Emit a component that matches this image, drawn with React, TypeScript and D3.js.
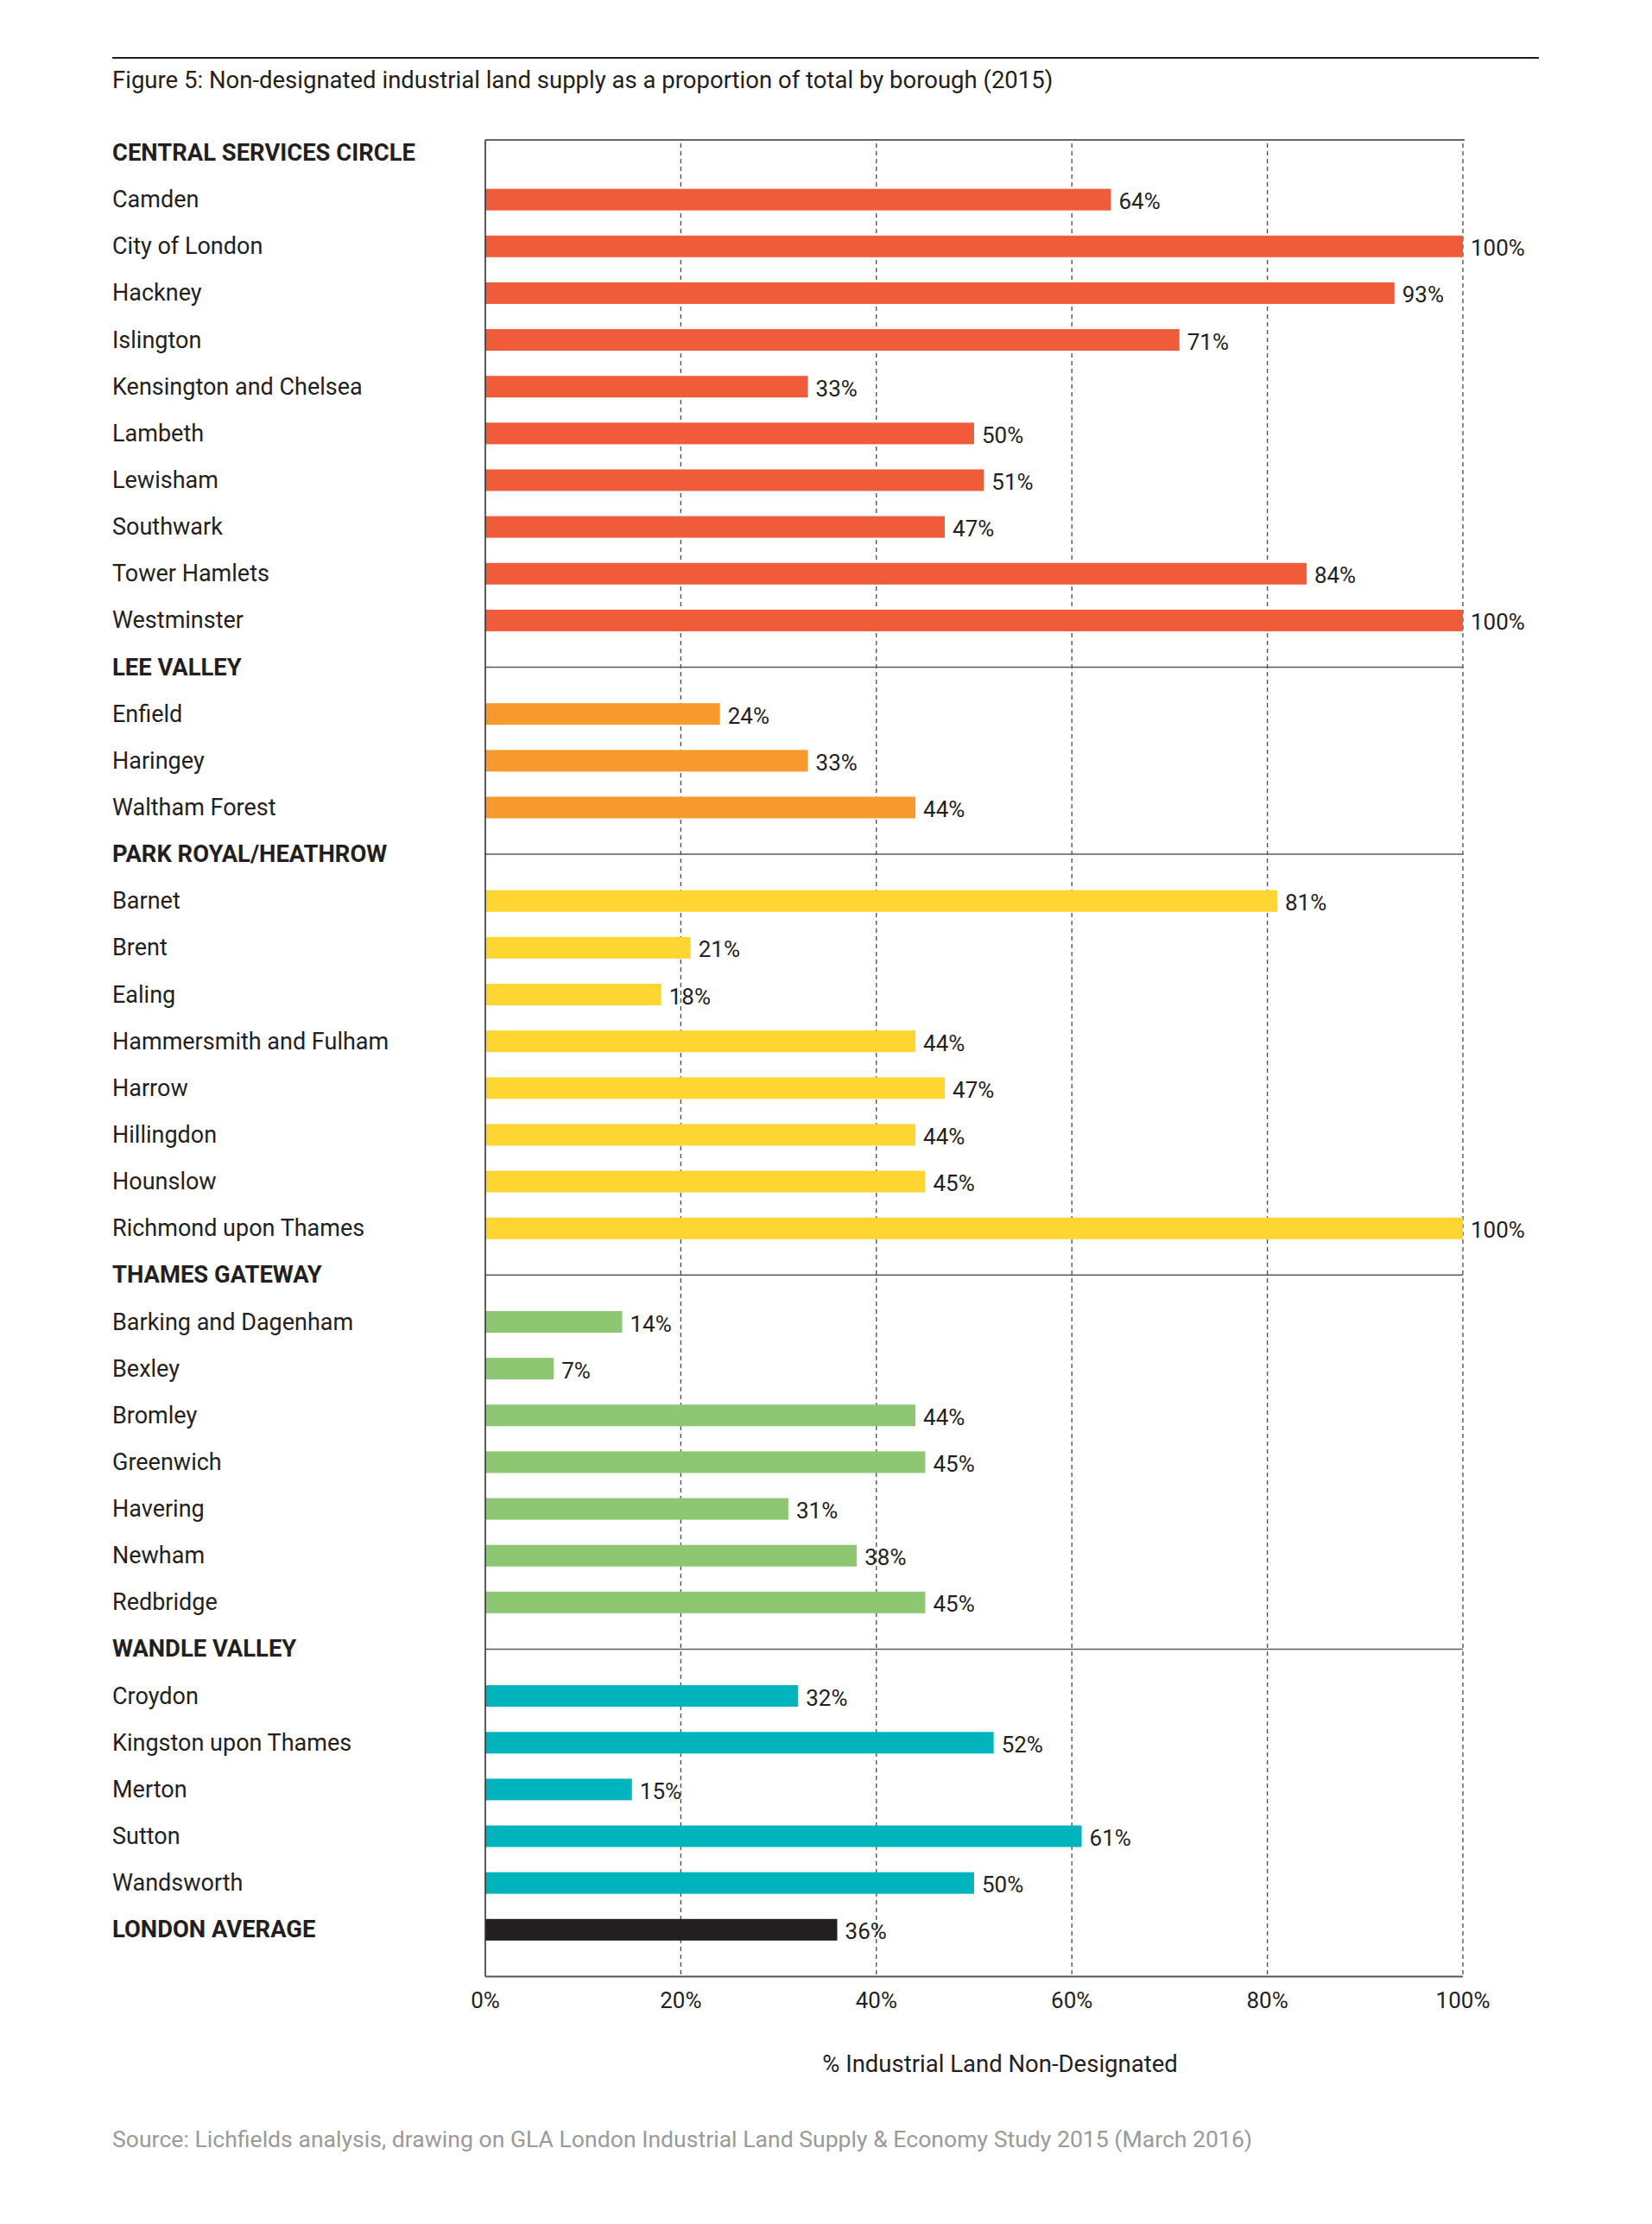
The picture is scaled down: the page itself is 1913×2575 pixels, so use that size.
import React from 'react';
import * as d3 from 'd3';

const title =
  'Figure 5: Non-designated industrial land supply as a proportion of total by borough (2015)';
const source =
  'Source: Lichfields analysis, drawing on GLA London Industrial Land Supply & Economy Study 2015 (March 2016)';
const axisTitle = '% Industrial Land Non-Designated';

const groups = [
  'CENTRAL SERVICES CIRCLE',
  'LEE VALLEY',
  'PARK ROYAL/HEATHROW',
  'THAMES GATEWAY',
  'WANDLE VALLEY',
];

const groupColors = ['#F05B3A', '#F7992C', '#FFD531', '#8DC772', '#00B4BE'];

const boroughs = [
  [
    'Camden',
    'City of London',
    'Hackney',
    'Islington',
    'Kensington and Chelsea',
    'Lambeth',
    'Lewisham',
    'Southwark',
    'Tower Hamlets',
    'Westminster',
  ],
  ['Enfield', 'Haringey', 'Waltham Forest'],
  [
    'Barnet',
    'Brent',
    'Ealing',
    'Hammersmith and Fulham',
    'Harrow',
    'Hillingdon',
    'Hounslow',
    'Richmond upon Thames',
  ],
  [
    'Barking and Dagenham',
    'Bexley',
    'Bromley',
    'Greenwich',
    'Havering',
    'Newham',
    'Redbridge',
  ],
  ['Croydon', 'Kingston upon Thames', 'Merton', 'Sutton', 'Wandsworth'],
];

const values = [
  [64, 100, 93, 71, 33, 50, 51, 47, 84, 100],
  [24, 33, 44],
  [81, 21, 18, 44, 47, 44, 45, 100],
  [14, 7, 44, 45, 31, 38, 45],
  [32, 52, 15, 61, 50],
];

const averageLabel = 'LONDON AVERAGE';
const averageValue = 36;
const averageColor = '#231F20';

const xTicks = [0, 20, 40, 60, 80, 100];

type Row = {
  label: string;
  header: boolean;
  bold: boolean;
  value?: number;
  color?: string;
};

const rows: Row[] = [];
groups.forEach((g, gi) => {
  rows.push({ label: g, header: true, bold: true });
  boroughs[gi].forEach((b, bi) => {
    rows.push({
      label: b,
      header: false,
      bold: false,
      value: values[gi][bi],
      color: groupColors[gi],
    });
  });
});
rows.push({
  label: averageLabel,
  header: false,
  bold: true,
  value: averageValue,
  color: averageColor,
});

const FONT = "Roboto, 'Liberation Sans', Arial, sans-serif";
const TEXT = '#231F20';

const App: React.FC = () => {
  const width = 1913;
  const height = 2575;

  const x = d3.scaleLinear().domain([0, 100]).range([562, 1694]);
  const y = d3
    .scalePoint<number>()
    .domain(rows.map((_, i) => i))
    .range([177, 177 + 54.14 * (rows.length - 1)]);

  const step = y.step();
  const plotTop = (y(0) as number) - 15;
  const plotBottom = (y(rows.length - 1) as number) + step;
  const barH = 25;

  return (
    <svg
      width={width}
      height={height}
      style={{ position: 'absolute', left: 0, top: 0, background: '#fff' }}
      fontFamily={FONT}
    >
      {/* top rule and title */}
      <line x1={130} x2={1782} y1={67} y2={67} stroke={TEXT} strokeWidth={2} />
      <text x={130} y={102} fontSize={27.5} fill={TEXT}>
        {title}
      </text>

      {/* dashed gridlines */}
      {xTicks
        .filter(t => t > 0)
        .map(t => (
          <line
            key={'g' + t}
            x1={x(t)}
            x2={x(t)}
            y1={plotTop + 4}
            y2={plotBottom}
            stroke="#4a4a4a"
            strokeWidth={1.3}
            strokeDasharray="5 4"
          />
        ))}

      {/* rows */}
      {rows.map((r, i) => {
        const cy = y(i) as number;
        return (
          <g key={i}>
            <text
              x={130}
              y={cy + 9}
              fontSize={r.bold ? 27.4 : 27}
              fontWeight={r.bold ? 700 : 400}
              fill={TEXT}
            >
              {r.label}
            </text>
            {r.header && i > 0 && (
              <line
                x1={x(0)}
                x2={x(100)}
                y1={cy}
                y2={cy}
                stroke="#5a5a5a"
                strokeWidth={1.5}
              />
            )}
            {r.value !== undefined && (
              <>
                <rect
                  x={x(0)}
                  y={cy - barH / 2}
                  width={x(r.value) - x(0)}
                  height={barH}
                  fill={r.color}
                />
                <text
                  x={x(r.value) + 9}
                  y={cy + 11}
                  fontSize={26}
                  fill={TEXT}
                >
                  {r.value}%
                </text>
              </>
            )}
          </g>
        );
      })}

      {/* frame */}
      <line x1={x(0)} x2={x(100) + 2} y1={plotTop} y2={plotTop} stroke="#333" strokeWidth={1.6} />
      <line x1={x(0)} x2={x(0)} y1={plotTop} y2={plotBottom} stroke="#333" strokeWidth={1.6} />
      <line x1={x(0)} x2={x(100)} y1={plotBottom} y2={plotBottom} stroke="#555" strokeWidth={2} />

      {/* x tick labels */}
      {xTicks.map(t => (
        <text
          key={'t' + t}
          x={x(t)}
          y={2325}
          fontSize={26}
          textAnchor="middle"
          fill={TEXT}
        >
          {t}%
        </text>
      ))}

      <text x={1158} y={2399} fontSize={27.5} textAnchor="middle" fill={TEXT}>
        {axisTitle}
      </text>

      <text x={130} y={2486} fontSize={26.6} fill="#9a9a9a">
        {source}
      </text>
    </svg>
  );
};

export default App;
